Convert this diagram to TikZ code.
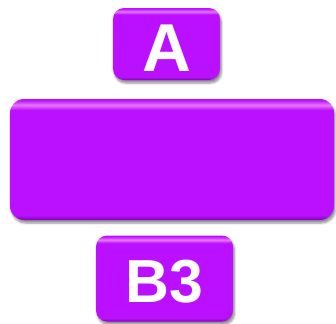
\documentclass[tikz,border=0pt]{standalone}
\usepackage{fontspec}
\setmainfont{Liberation Sans}
\usetikzlibrary{shadows.blur}
\definecolor{pbase}{HTML}{BB10FF}
\definecolor{plight}{HTML}{E878FF}
\definecolor{pdark}{HTML}{8400B8}
\pgfdeclareverticalshading{gloss}{100bp}{color(0bp)=(pdark); color(25bp)=(pdark); color(27bp)=(pbase); color(70.5bp)=(pbase); color(72.5bp)=(plight); color(74.5bp)=(pbase); color(75bp)=(pbase); color(100bp)=(pbase)}
\tikzset{
  glossbox/.style={rounded corners=11bp, shading=gloss, draw=none, inner sep=0pt,
    text=white, font=\bfseries,
    blur shadow={shadow xshift=1.5bp, shadow yshift=-3bp, shadow blur steps=6, shadow opacity=45}},
}
\begin{document}
\begin{tikzpicture}[x=1bp,y=-1bp]
\useasboundingbox (0,0) rectangle (336,324);
\node[glossbox, minimum width=107bp, minimum height=72bp, font=\fontsize{68}{68}\bfseries, text height=55bp, text depth=0bp] (A) at (166.5,44) {A};
\node[glossbox, rounded corners=14bp, minimum width=324bp, minimum height=121bp] (M) at (172,159.5) {};
\node[glossbox, minimum width=137bp, minimum height=86bp, font=\fontsize{61}{61}\bfseries, text height=47bp, text depth=0bp] (B) at (164.5,278.5) {B3};
\end{tikzpicture}
\end{document}
